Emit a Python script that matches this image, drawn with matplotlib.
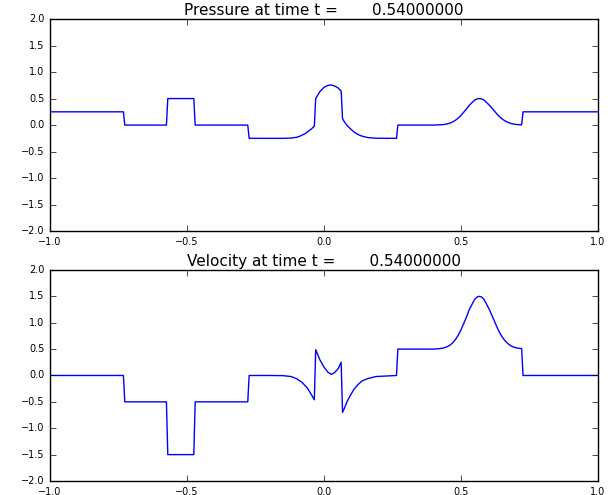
import numpy as np
import matplotlib
matplotlib.use('Agg')
from matplotlib import pyplot as plt

plt.style.use('classic')
plt.rc('figure', facecolor='white')
plt.rc('font', family='DejaVu Sans')
plt.rc('xtick', labelsize=7)
plt.rc('ytick', labelsize=7)

# solution sampled at the plotted nodes (t = 0.54)
x = [-1.0, -0.732, -0.727, -0.575, -0.570, -0.475, -0.470, -0.278, -0.273,
     -0.20, -0.15, -0.12, -0.10, -0.09, -0.08, -0.07, -0.06, -0.045, -0.035, -0.030,
     -0.015, 0.0, 0.015, 0.028, 0.040, 0.052, 0.063, 0.068, 0.075, 0.085, 0.095,
     0.11, 0.125, 0.14, 0.16, 0.19, 0.265, 0.270,
     0.40, 0.41, 0.42, 0.43, 0.44, 0.45, 0.46, 0.47, 0.48, 0.49, 0.50, 0.51,
     0.52, 0.53, 0.54, 0.55, 0.56, 0.567, 0.575, 0.585, 0.595, 0.605, 0.615,
     0.625, 0.635, 0.645, 0.655, 0.665, 0.675, 0.685, 0.695, 0.71, 0.722,
     0.727, 1.0]

pressure = [0.25, 0.25, 0.0, 0.0, 0.5, 0.5, 0.0, 0.0, -0.25,
            -0.25, -0.25, -0.245, -0.23, -0.215, -0.19, -0.165, -0.13, -0.07, -0.02, 0.50,
            0.63, 0.71, 0.75, 0.755, 0.735, 0.70, 0.64, 0.12, 0.06, -0.01, -0.06,
            -0.13, -0.18, -0.21, -0.235, -0.248, -0.25, 0.0,
            0.0, 0.002, 0.004, 0.007, 0.013, 0.023, 0.037, 0.059, 0.09, 0.13, 0.18, 0.24,
            0.30, 0.37, 0.42, 0.47, 0.495, 0.50, 0.495, 0.47, 0.42, 0.37, 0.31,
            0.25, 0.19, 0.14, 0.10, 0.068, 0.045, 0.028, 0.017, 0.008, 0.005,
            0.25, 0.25]

velocity = [0.0, 0.0, -0.5, -0.5, -1.5, -1.5, -0.5, -0.5, 0.0,
            0.0, -0.003, -0.02, -0.06, -0.095, -0.13, -0.185, -0.24, -0.37, -0.46, 0.49,
            0.30, 0.16, 0.06, 0.02, 0.06, 0.13, 0.25, -0.70, -0.62, -0.49, -0.39,
            -0.26, -0.17, -0.10, -0.06, -0.02, 0.0, 0.5,
            0.5, 0.504, 0.508, 0.514, 0.526, 0.546, 0.574, 0.618, 0.68, 0.76, 0.86, 0.98,
            1.10, 1.24, 1.34, 1.44, 1.49, 1.5, 1.49, 1.44, 1.34, 1.24, 1.12,
            1.0, 0.88, 0.78, 0.70, 0.636, 0.59, 0.556, 0.534, 0.516, 0.51,
            0.0, 0.0]

assert len(x) == len(pressure) == len(velocity)
t = 0.54

fig = plt.figure(figsize=(6.1, 4.95), dpi=100)
ax1 = fig.add_axes([0.082, 0.533, 0.898, 0.4286])
ax2 = fig.add_axes([0.082, 0.0283, 0.898, 0.4263])

for ax, vals, name in [(ax1, pressure, 'Pressure'), (ax2, velocity, 'Velocity')]:
    ax.plot(x, vals, 'b-', lw=1)
    ax.set_xlim(-1, 1)
    ax.set_ylim(-2, 2)
    ax.set_xticks(np.arange(-1, 1.01, 0.5))
    ax.set_yticks(np.arange(-2, 2.01, 0.5))
    ax.set_title('%s at time t = %16.8f' % (name, t), fontsize=11, pad=3)

plt.savefig('out.png', dpi=100, facecolor='white')
